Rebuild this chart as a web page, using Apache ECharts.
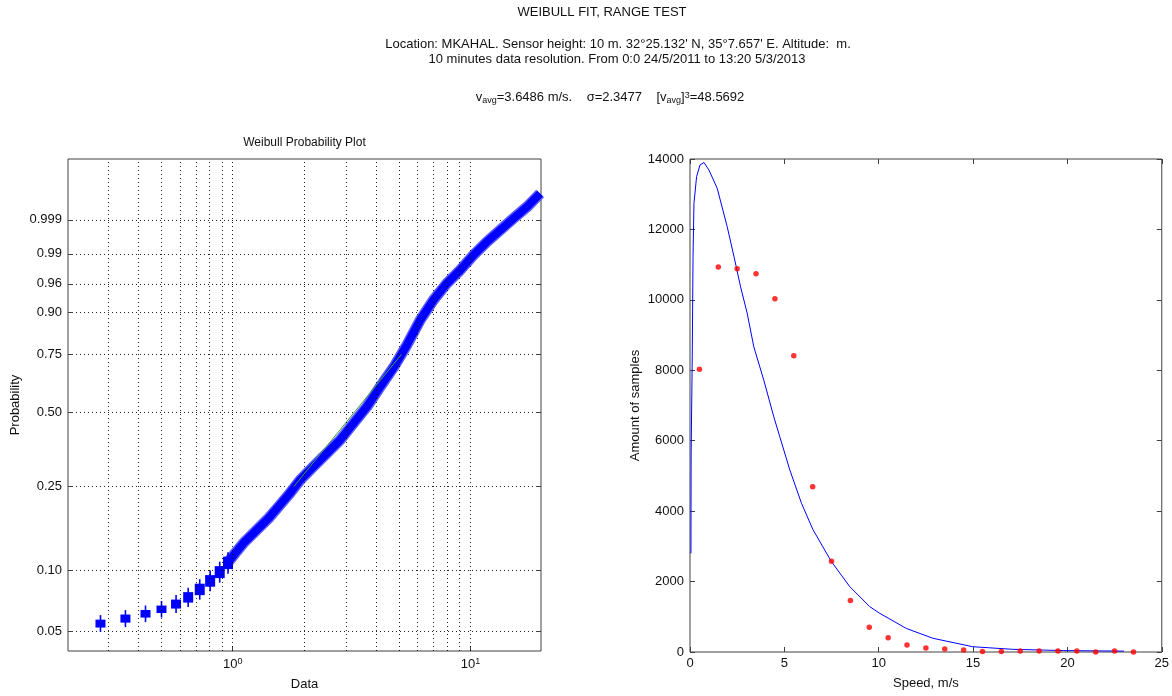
<!DOCTYPE html>
<html>
<head>
<meta charset="utf-8">
<script src="https://cdn.jsdelivr.net/npm/echarts@6/dist/echarts.min.js"></script>
<style>
  html, body { margin: 0; padding: 0; background: #ffffff; }
  #chart { width: 1172px; height: 696px; }
</style>
</head>
<body>
<div id="chart"></div>
<script>
// ---- Weibull probability plot (left) ----
// Low speeds come in discrete steps; each step spans a range of cumulative probability.
const stepSpeeds = [0.278, 0.354, 0.430, 0.502, 0.578, 0.650, 0.727, 0.804, 0.882, 0.956];
const stepProbStart = 0.0530;
const stepProbEnd = [0.0561, 0.0595, 0.0627, 0.0660, 0.0707, 0.0770, 0.0848, 0.0935, 0.1035, 0.1151];

// Dense part of the empirical distribution (speed, cumulative probability)
const bandSpeeds = [0.956, 1.026, 1.112, 1.206, 1.307, 1.417, 1.561, 1.719, 1.925, 2.189, 2.493, 2.834,
  3.224, 3.671, 4.175, 4.750, 5.405, 6.148, 6.990, 7.958, 9.052, 10.29, 11.72, 13.33, 15.16, 17.26, 19.63];
const bandProbs = [0.1100, 0.1220, 0.1364, 0.1494, 0.1636, 0.1791, 0.2027, 0.2293, 0.2676, 0.3058, 0.3482, 0.3943,
  0.4575, 0.5254, 0.6115, 0.6953, 0.7885, 0.8766, 0.9297, 0.9608, 0.9775, 0.9893, 0.99507, 0.99778, 0.99911, 0.99968, 0.999922];

// Reference line through the quartiles
const refSpeeds = [1.81, 5.12];
const refProbs = [0.25, 0.75];

const probTicks = [0.05, 0.10, 0.25, 0.50, 0.75, 0.90, 0.96, 0.99, 0.999];
const probTickLabels = ['0.05', '0.10', '0.25', '0.50', '0.75', '0.90', '0.96', '0.99', '0.999'];
const dataGridValues = [0.3, 0.4, 0.5, 0.6, 0.7, 0.8, 0.9, 1, 2, 3, 4, 5, 6, 7, 8, 9, 10];

// ---- Speed histogram and fitted density (right) ----
const binCenters = [0.5, 1.5, 2.5, 3.5, 4.5, 5.5, 6.5, 7.5, 8.5, 9.5, 10.5, 11.5,
  12.5, 13.5, 14.5, 15.5, 16.5, 17.5, 18.5, 19.5, 20.5, 21.5, 22.5, 23.5];
const binCounts = [8030, 10930, 10885, 10740, 10030, 8410, 4690, 2575, 1460, 700, 405, 200,
  115, 85, 57, 12, 12, 30, 30, 30, 30, 3, 30, 3];

const pdfSpeeds = [0.05, 0.06, 0.12, 0.16, 0.21, 0.35, 0.53, 0.74, 1.00, 1.44, 1.97, 2.33, 2.68, 3.03,
  3.38, 3.91, 4.44, 4.76, 5.29, 5.91, 6.52, 7.49, 8.46, 9.52, 10.05, 11.46, 12.87, 14.98, 17.10, 19.80, 23.00];
const pdfCounts = [2800, 5650, 8400, 11200, 12740, 13500, 13830, 13900, 13690, 13170, 12080, 11230, 10370, 9620,
  8670, 7720, 6680, 6110, 5170, 4220, 3470, 2570, 1860, 1290, 1100, 670, 390, 150, 76, 40, 25];

const countTickStep = 2000;

// Weibull probability scale: ln(-ln(1-p))
const wb = p => Math.log(-Math.log(1 - p));
const probTickVals = probTicks.map(wb);
const probLabelFor = v => {
  let best = 0;
  for (let i = 1; i < probTickVals.length; i++) {
    if (Math.abs(probTickVals[i] - v) < Math.abs(probTickVals[best] - v)) best = i;
  }
  return probTickLabels[best];
};

const FONT = '"Liberation Sans", Arial, Helvetica, sans-serif';
const BLUE = '#0000ff';
const AXIS_COLOR = '#404040';
const TEXT = '#111111';
const gridLineStyle = { color: '#000000', width: 1, type: [1, 3], opacity: 0.85 };

const stepData = stepSpeeds.map((s, i) => [
  s,
  wb(i === 0 ? stepProbStart : stepProbEnd[i - 1]),
  wb(stepProbEnd[i])
]);
const bandData = bandSpeeds.map((s, i) => [s, wb(bandProbs[i])]);

const chart = echarts.init(document.getElementById('chart'), null, { renderer: 'canvas' });

const titleStyle = { fontSize: 13, fontWeight: 'normal', color: TEXT, fontFamily: FONT };
const richBase = { color: TEXT, fontFamily: FONT, fontWeight: 'normal' };

const option = {
  animation: false,
  backgroundColor: '#ffffff',
  textStyle: { fontFamily: FONT },
  title: [
    { text: 'WEIBULL FIT, RANGE TEST', left: 602, top: 6, textAlign: 'center', padding: 0, textStyle: titleStyle },
    { text: "Location: MKAHAL. Sensor height: 10 m. 32°25.132' N, 35°7.657' E. Altitude:  m.",
      left: 618, top: 38, textAlign: 'center', padding: 0, textStyle: titleStyle },
    { text: '10 minutes data resolution. From 0:0 24/5/2011 to 13:20 5/3/2013',
      left: 617, top: 53, textAlign: 'center', padding: 0, textStyle: titleStyle },
    {
      text: '{n|v}{s|avg}{n|=3.6486 m/s.    σ=2.3477    [v}{s|avg}{n|]}{p|3}{n|=48.5692}',
      left: 610, top: 91, textAlign: 'center', padding: 0,
      textStyle: {
        fontSize: 13, fontWeight: 'normal', color: TEXT, fontFamily: FONT,
        rich: {
          n: Object.assign({ fontSize: 13, lineHeight: 14, verticalAlign: 'top', padding: [0, 0, 4, 0] }, richBase),
          s: Object.assign({ fontSize: 9, lineHeight: 10, verticalAlign: 'bottom' }, richBase),
          p: Object.assign({ fontSize: 9, lineHeight: 10, verticalAlign: 'top' }, richBase)
        }
      }
    },
    { text: 'Weibull Probability Plot', left: 304.5, top: 137, textAlign: 'center', padding: 0,
      textStyle: { fontSize: 12, fontWeight: 'normal', color: TEXT, fontFamily: FONT } }
  ],
  grid: [
    { left: 68, top: 159, width: 473, height: 493, show: true, borderColor: AXIS_COLOR, borderWidth: 1, backgroundColor: 'transparent' },
    { left: 690, top: 159, width: 472, height: 493, show: true, borderColor: AXIS_COLOR, borderWidth: 1, backgroundColor: 'transparent' }
  ],
  xAxis: [
    {
      type: 'log', logBase: 10, gridIndex: 0, min: 0.203, max: 19.8,
      name: 'Data', nameLocation: 'middle', nameGap: 27,
      nameTextStyle: { fontSize: 13, color: TEXT, fontFamily: FONT },
      axisLine: { show: false, onZero: false },
      axisTick: { show: true, inside: true, length: 5, lineStyle: { color: AXIS_COLOR } },
      splitLine: { show: false },
      axisLabel: {
        margin: 6, showMinLabel: false, showMaxLabel: false,
        formatter: v => {
          const l = Math.log10(v);
          const e = Math.round(l);
          if (Math.abs(l - e) > 1e-6) return '';
          return '{b|10}{e|' + e + '}';
        },
        rich: {
          b: Object.assign({ fontSize: 13, lineHeight: 14, verticalAlign: 'bottom', padding: [4, 0, 0, 0] }, richBase),
          e: Object.assign({ fontSize: 9, lineHeight: 10, verticalAlign: 'top' }, richBase)
        }
      }
    },
    {
      type: 'value', gridIndex: 1, min: 0, max: 25, interval: 5,
      name: 'Speed, m/s', nameLocation: 'middle', nameGap: 25,
      nameTextStyle: { fontSize: 13, color: TEXT, fontFamily: FONT },
      axisLine: { show: false, onZero: false },
      axisTick: { show: true, inside: true, length: 5, lineStyle: { color: AXIS_COLOR } },
      splitLine: { show: false },
      axisLabel: { margin: 5, fontSize: 13, color: TEXT, fontFamily: FONT, formatter: v => String(v) }
    },
    {
      type: 'value', gridIndex: 1, position: 'top', min: 0, max: 25, interval: 5,
      axisLine: { show: false, onZero: false },
      axisTick: { show: true, inside: true, length: 5, lineStyle: { color: AXIS_COLOR } },
      splitLine: { show: false },
      axisLabel: { show: false }
    }
  ],
  yAxis: [
    {
      type: 'value', gridIndex: 0, min: -3.208, max: 2.658,
      name: 'Probability', nameLocation: 'middle', nameGap: 46, nameRotate: 90,
      nameTextStyle: { fontSize: 13, color: TEXT, fontFamily: FONT },
      axisLine: { show: false, onZero: false },
      axisTick: { show: true, inside: true, length: 5, customValues: probTickVals, lineStyle: { color: AXIS_COLOR } },
      splitLine: { show: true, lineStyle: gridLineStyle },
      axisLabel: { customValues: probTickVals, formatter: probLabelFor, margin: 6, fontSize: 13, color: TEXT, fontFamily: FONT }
    },
    {
      type: 'value', gridIndex: 0, position: 'right', min: -3.208, max: 2.658,
      axisLine: { show: false, onZero: false },
      axisTick: { show: true, inside: true, length: 5, customValues: probTickVals, lineStyle: { color: AXIS_COLOR } },
      splitLine: { show: false },
      axisLabel: { show: false }
    },
    {
      type: 'value', gridIndex: 1, min: 0, max: 14000, interval: countTickStep,
      name: 'Amount of samples', nameLocation: 'middle', nameGap: 48, nameRotate: 90,
      nameTextStyle: { fontSize: 13, color: TEXT, fontFamily: FONT },
      axisLine: { show: false, onZero: false },
      axisTick: { show: true, inside: true, length: 5, lineStyle: { color: AXIS_COLOR } },
      splitLine: { show: false },
      axisLabel: { margin: 6, fontSize: 13, color: TEXT, fontFamily: FONT, formatter: v => String(v) }
    },
    {
      type: 'value', gridIndex: 1, position: 'right', min: 0, max: 14000, interval: countTickStep,
      axisLine: { show: false, onZero: false },
      axisTick: { show: true, inside: true, length: 5, lineStyle: { color: AXIS_COLOR } },
      splitLine: { show: false },
      axisLabel: { show: false }
    }
  ],
  series: [
    // vertical dotted grid of the probability plot
    {
      type: 'line', xAxisIndex: 0, yAxisIndex: 0, data: [], z: 1, silent: true,
      markLine: {
        silent: true, symbol: ['none', 'none'], label: { show: false },
        lineStyle: gridLineStyle, animation: false,
        data: dataGridValues.map(v => ({ xAxis: v }))
      }
    },
    // stacked '+' markers of the discrete low-speed steps
    {
      type: 'custom', xAxisIndex: 0, yAxisIndex: 0, z: 3,
      data: stepData,
      encode: { x: 0, y: [1, 2] },
      renderItem: (params, api) => {
        const lo = api.coord([api.value(0), api.value(1)]);
        const hi = api.coord([api.value(0), api.value(2)]);
        const arm = 5;
        const top = Math.min(hi[1], lo[1]);
        const bot = Math.max(hi[1], lo[1]);
        return {
          type: 'group',
          children: [
            { type: 'rect', shape: { x: lo[0] - arm, y: top - 1.5, width: arm * 2, height: bot - top + 3 },
              style: { fill: BLUE } },
            { type: 'line', shape: { x1: lo[0], y1: top - arm - 1, x2: lo[0], y2: bot + arm + 1 },
              style: { stroke: BLUE, lineWidth: 1.6 } }
          ]
        };
      }
    },
    // soft edge of the dense band
    {
      type: 'line', xAxisIndex: 0, yAxisIndex: 0, z: 2,
      data: bandData, showSymbol: false, symbol: 'none',
      lineStyle: { color: '#5a5aff', width: 11, cap: 'butt', join: 'round' }
    },
    // dense empirical distribution
    {
      type: 'line', xAxisIndex: 0, yAxisIndex: 0, z: 3,
      data: bandData, showSymbol: false, symbol: 'none',
      lineStyle: { color: BLUE, width: 8, cap: 'butt', join: 'round' }
    },
    // quartile reference line
    {
      type: 'line', xAxisIndex: 0, yAxisIndex: 0, z: 4,
      data: refSpeeds.map((s, i) => [s, wb(refProbs[i])]),
      showSymbol: false, symbol: 'none',
      lineStyle: { color: '#3fa03f', width: 1 }
    },
    // fitted density
    {
      type: 'line', xAxisIndex: 1, yAxisIndex: 2, z: 3,
      data: pdfSpeeds.map((s, i) => [s, pdfCounts[i]]),
      showSymbol: false, symbol: 'none',
      lineStyle: { color: BLUE, width: 1 }
    },
    // histogram counts
    {
      type: 'scatter', xAxisIndex: 1, yAxisIndex: 2, z: 4,
      data: binCenters.map((s, i) => [s, binCounts[i]]),
      symbol: 'circle', symbolSize: 5.5,
      itemStyle: { color: '#ff0000' }
    }
  ]
};

chart.setOption(option);
</script>
</body>
</html>
